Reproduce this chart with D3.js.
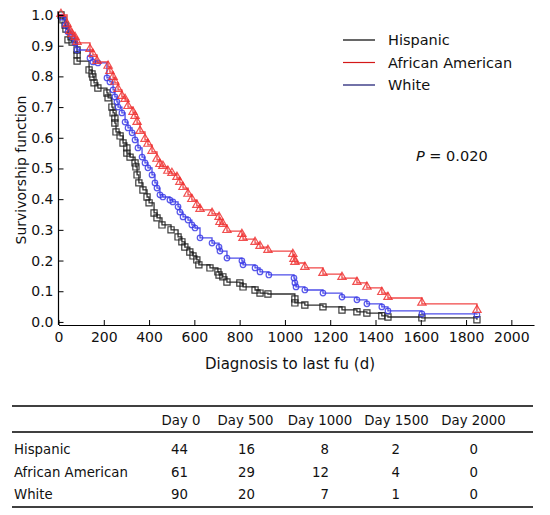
<!DOCTYPE html>
<html><head><meta charset="utf-8">
<script src="https://cdn.jsdelivr.net/npm/d3@7"></script>
<style>
body{margin:0;background:#fff;}
svg{display:block;font-family:"DejaVu Sans",Verdana,sans-serif;}
</style></head>
<body>
<script>
// ---- data (days, survival) ----
const groups = ["Hispanic", "African American", "White"];
const hispanicDays = [0,11,20,29,33,42,60,82,82,82,135,148,152,157,174,214,219,236,241,249,249,254,272,285,302,302,316,338,342,347,355,373,391,400,422,435,457,497,528,545,558,580,594,611,620,669,704,709,726,744,801,815,868,890,925,1044,1044,1088,1168,1252,1318,1362,1428,1455,1605,1848];
const hispanicSurv = [1.0,1.0,0.984,0.967,0.954,0.919,0.912,0.886,0.870,0.850,0.821,0.808,0.798,0.779,0.762,0.746,0.730,0.700,0.681,0.664,0.648,0.619,0.606,0.583,0.567,0.550,0.537,0.518,0.505,0.479,0.453,0.430,0.407,0.388,0.355,0.339,0.316,0.300,0.277,0.261,0.244,0.228,0.215,0.202,0.186,0.176,0.163,0.153,0.147,0.130,0.127,0.114,0.104,0.094,0.091,0.075,0.062,0.055,0.049,0.039,0.033,0.029,0.020,0.016,0.013,0.007];
const africanDays = [0,11,38,51,60,73,82,139,152,170,219,227,241,249,263,280,294,307,329,338,347,360,382,395,413,435,448,461,483,501,523,536,550,572,589,611,625,678,709,713,726,744,810,815,868,890,925,1035,1040,1044,1088,1168,1252,1318,1362,1428,1455,1605,1848];
const africanSurv = [1.0,1.0,0.967,0.945,0.935,0.925,0.909,0.886,0.870,0.847,0.831,0.814,0.795,0.779,0.756,0.733,0.723,0.700,0.681,0.668,0.648,0.619,0.593,0.577,0.554,0.528,0.511,0.505,0.489,0.482,0.469,0.453,0.436,0.414,0.397,0.378,0.365,0.352,0.339,0.322,0.316,0.296,0.283,0.270,0.257,0.244,0.231,0.218,0.202,0.192,0.176,0.156,0.143,0.127,0.111,0.094,0.078,0.059,0.036];
const whiteDays = [0,15,29,42,60,73,82,139,152,174,214,227,241,249,258,263,280,294,307,325,338,351,369,382,395,413,426,435,448,461,492,505,528,536,550,572,589,603,625,678,709,713,744,810,815,868,890,929,1040,1044,1049,1088,1168,1252,1318,1362,1428,1455,1605,1848];
const whiteSurv = [1.0,0.993,0.967,0.945,0.928,0.909,0.886,0.860,0.847,0.844,0.795,0.782,0.756,0.733,0.717,0.700,0.681,0.651,0.632,0.616,0.593,0.567,0.537,0.518,0.502,0.479,0.453,0.436,0.414,0.407,0.397,0.391,0.375,0.358,0.342,0.332,0.316,0.306,0.274,0.257,0.244,0.231,0.208,0.199,0.186,0.176,0.163,0.153,0.143,0.127,0.114,0.104,0.094,0.081,0.072,0.059,0.049,0.036,0.026,0.023];
const xTicks = [0,200,400,600,800,1000,1200,1400,1600,1800,2000];
const yTicks = [0,0.1,0.2,0.3,0.4,0.5,0.6,0.7,0.8,0.9,1.0];
const pText = "0.020";
const tableCols = ["Day 0", "Day 500", "Day 1000", "Day 1500", "Day 2000"];
const hispanicRisk = [44, 16, 8, 2, 0];
const africanRisk = [61, 29, 12, 4, 0];
const whiteRisk = [90, 20, 7, 1, 0];

// ---- drawing ----
const W = 550, H = 515;
const svg = d3.select("body").append("svg").attr("width", W).attr("height", H);
const x = d3.scaleLinear().domain([0, 2100]).range([58.5, 534]);
const y = d3.scaleLinear().domain([-0.01, 1.0]).range([325, 15]);

const series = [
  {name: groups[0], days: hispanicDays, surv: hispanicSurv, color: "#1a1a1a", legend: "#000000", shape: "square"},
  {name: groups[2], days: whiteDays, surv: whiteSurv, color: "#3a3ae6", legend: "#14146e", shape: "circle"},
  {name: groups[1], days: africanDays, surv: africanSurv, color: "#ee3333", legend: "#d41818", shape: "triangle"}
];

const line = d3.line().x(d => x(d[0])).y(d => y(d[1])).curve(d3.curveStepAfter);
series.forEach(s => {
  const pts = s.days.map((d, i) => [d, s.surv[i]]);
  const g = svg.append("g");
  g.append("path").attr("d", line(pts)).attr("fill", "none")
    .attr("stroke", s.color).attr("stroke-width", 1.3).attr("opacity", 0.9);
  const sym = s.shape === "square" ? d3.symbolSquare : s.shape === "circle" ? d3.symbolCircle : d3.symbolTriangle;
  const size = s.shape === "square" ? 38 : s.shape === "circle" ? 24 : 30;
  g.selectAll("path.m").data(pts.slice(1)).join("path").attr("class", "m")
    .attr("d", d3.symbol().type(sym).size(size))
    .attr("transform", d => `translate(${x(d[0])},${y(d[1]) + (s.shape === "triangle" ? -1 : 0)})`)
    .attr("fill", "none").attr("stroke", s.color).attr("stroke-width", 1.2).attr("opacity", 0.85);
});

// axes
const fs = 14;
const xAxis = svg.append("g").attr("transform", "translate(0,325)")
  .call(d3.axisBottom(x).tickValues(xTicks).tickFormat(d3.format("d")).tickSizeInner(-5).tickSizeOuter(0).tickPadding(7));
const yAxis = svg.append("g").attr("transform", "translate(58.5,0)")
  .call(d3.axisLeft(y).tickValues(yTicks).tickFormat(d3.format(".1f")).tickSizeInner(-5).tickSizeOuter(0).tickPadding(5));
[xAxis, yAxis].forEach(a => {
  a.selectAll("text").attr("font-size", fs).attr("fill", "#111").attr("font-family", "DejaVu Sans");
  a.select(".domain").attr("stroke", "#000").attr("stroke-width", 1.2);
  a.selectAll(".tick line").attr("stroke", "#000");
});
yAxis.select(".domain").attr("d", `M0,${y(-0.01)}V12`);

svg.append("text").attr("transform", "translate(26,170) rotate(-90)").attr("text-anchor", "middle")
  .attr("font-size", 14).attr("fill", "#111").text("Survivorship function");
svg.append("text").attr("x", 290).attr("y", 369).attr("text-anchor", "middle")
  .attr("font-size", 15).attr("fill", "#111").text("Diagnosis to last fu (d)");

// legend
const legOrder = [series[0], series[2], series[1]];
legOrder.forEach((s, i) => {
  const ly = 40 + i * 22.5;
  svg.append("line").attr("x1", 343).attr("x2", 375).attr("y1", ly).attr("y2", ly)
    .attr("stroke", s.legend).attr("stroke-width", 1.2);
  svg.append("text").attr("x", 388).attr("y", ly + 5).attr("font-size", 14.5).attr("fill", "#111").text(s.name);
});

// p value
const pt = svg.append("text").attr("x", 416).attr("y", 161).attr("font-size", 14.5).attr("fill", "#111");
pt.append("tspan").attr("font-style", "italic").text("P");
pt.append("tspan").text(" = " + pText);

// table
const tfs = 13.3;
const tbl = svg.append("g");
[406, 432, 507].forEach(yy => tbl.append("line").attr("x1", 12).attr("x2", 533).attr("y1", yy).attr("y2", yy)
  .attr("stroke", "#000").attr("stroke-width", 1.3));
const colCenters = [181, 245.5, 320, 396.5, 473.5];
const numRight = [188, 255, 329, 400, 478];
tableCols.forEach((c, i) => tbl.append("text").attr("x", colCenters[i]).attr("y", 425)
  .attr("text-anchor", "middle").attr("font-size", tfs).attr("fill", "#111").text(c));
const rows = [[groups[0], hispanicRisk], [groups[1], africanRisk], [groups[2], whiteRisk]];
rows.forEach((r, j) => {
  const ry = 454 + j * 22.5;
  tbl.append("text").attr("x", 14).attr("y", ry).attr("font-size", tfs).attr("fill", "#111").text(r[0]);
  r[1].forEach((v, i) => tbl.append("text").attr("x", numRight[i]).attr("y", ry).attr("text-anchor", "end")
    .attr("font-size", tfs).attr("fill", "#111").text(v));
});
</script>
</body></html>
